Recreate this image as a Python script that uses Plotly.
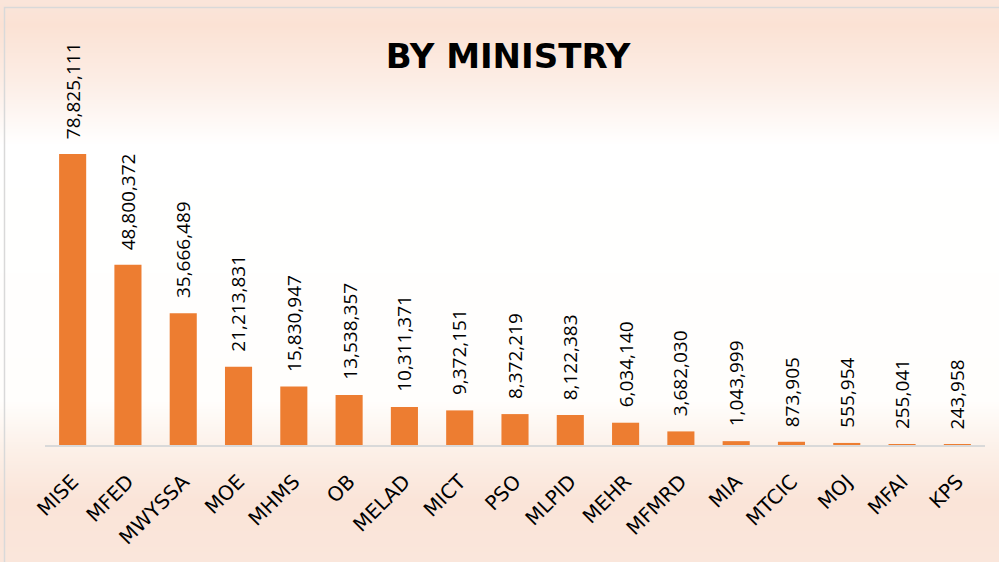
import base64, struct, zlib
import plotly.graph_objects as go

ministries = ["MISE", "MFED", "MWYSSA", "MOE", "MHMS", "OB", "MELAD", "MICT", "PSO",
              "MLPID", "MEHR", "MFMRD", "MIA", "MTCIC", "MOJ", "MFAI", "KPS"]
amounts = [78825111, 48800372, 35666489, 21213831, 15830947, 13538357, 10311371, 9372151,
           8372219, 8122383, 6034140, 3682030, 1043999, 873905, 555954, 255041, 243958]

W, H = 999, 562
ML, MR, MT, MB = 45, 14, 100, 117
PW, PH = W - ML - MR, H - MT - MB

# ---- vertical background gradient (peach -> white -> peach) as a tiny PNG ----
stops = [(0, (250, 229, 218)), (25, (251, 226, 212)), (80, (252, 237, 229)),
         (145, (255, 255, 255)), (400, (255, 254, 252)), (450, (252, 240, 232)),
         (500, (250, 228, 216)), (562, (250, 230, 219))]

def col_at(y):
    for (y0, c0), (y1, c1) in zip(stops, stops[1:]):
        if y0 <= y <= y1:
            t = (y - y0) / (y1 - y0) if y1 > y0 else 0
            return tuple(int(round(a + (b - a) * t)) for a, b in zip(c0, c1))
    return stops[-1][1]

raw = b"".join(b"\x00" + bytes(col_at(y)) for y in range(H))
def chunk(tag, data):
    c = struct.pack(">I", len(data)) + tag + data
    return c + struct.pack(">I", zlib.crc32(tag + data) & 0xffffffff)
png = (b"\x89PNG\r\n\x1a\n" + chunk(b"IHDR", struct.pack(">IIBBBBB", 1, H, 8, 2, 0, 0, 0))
       + chunk(b"IDAT", zlib.compress(raw)) + chunk(b"IEND", b""))
bg_uri = "data:image/png;base64," + base64.b64encode(png).decode()

fig = go.Figure(go.Bar(
    x=ministries, y=amounts,
    marker=dict(color="#ED7D31", line=dict(width=0)),
    hoverinfo="x+y",
))

# value labels above each bar, rotated
annotations = []
for m, v in zip(ministries, amounts):
    annotations.append(dict(
        x=m, y=v, xref="x", yref="y", text=f"{v:,}", showarrow=False,
        textangle=-90, xanchor="center", yanchor="bottom", yshift=13,
        font=dict(family="Open Sans", size=19, color="#000000")))

def px_x(px):
    return (px - ML) / PW
def px_y(py):
    return (H - MB - py) / PH

fig.update_layout(
    width=W, height=H,
    margin=dict(l=ML, r=MR, t=MT, b=MB, autoexpand=False),
    paper_bgcolor="rgba(0,0,0,0)", plot_bgcolor="rgba(0,0,0,0)",
    bargap=0.51,
    showlegend=False,
    title=dict(text="<b>BY MINISTRY</b>", x=508 / W, xanchor="center",
               y=1 - 56 / H, yanchor="middle",
               font=dict(family="DejaVu Sans", size=34, color="#000000")),
    xaxis=dict(showline=True, linecolor="#D9D9D9", linewidth=2, ticks="",
               tickangle=-45, showgrid=False, automargin=False, ticklabelstandoff=15,
               tickfont=dict(family="DejaVu Sans", size=20, color="#000000")),
    yaxis=dict(visible=False, range=[0, 78825111 * PH / 291], showgrid=False),
    annotations=annotations,
    images=[dict(source=bg_uri, xref="paper", yref="paper",
                 x=px_x(0), y=px_y(0), sizex=W / PW, sizey=H / PH,
                 xanchor="left", yanchor="top", sizing="stretch", layer="below")],
    shapes=[dict(type="rect", xref="paper", yref="paper",
                 x0=px_x(4.5), x1=px_x(1010), y0=px_y(7.5), y1=px_y(580),
                 line=dict(color="#D9D9D9", width=1.5), fillcolor="rgba(0,0,0,0)",
                 layer="below")],
)

fig.write_html("out.html", config={"displayModeBar": False},
               post_script="document.body.style.margin='0';document.body.style.overflow='hidden';")
